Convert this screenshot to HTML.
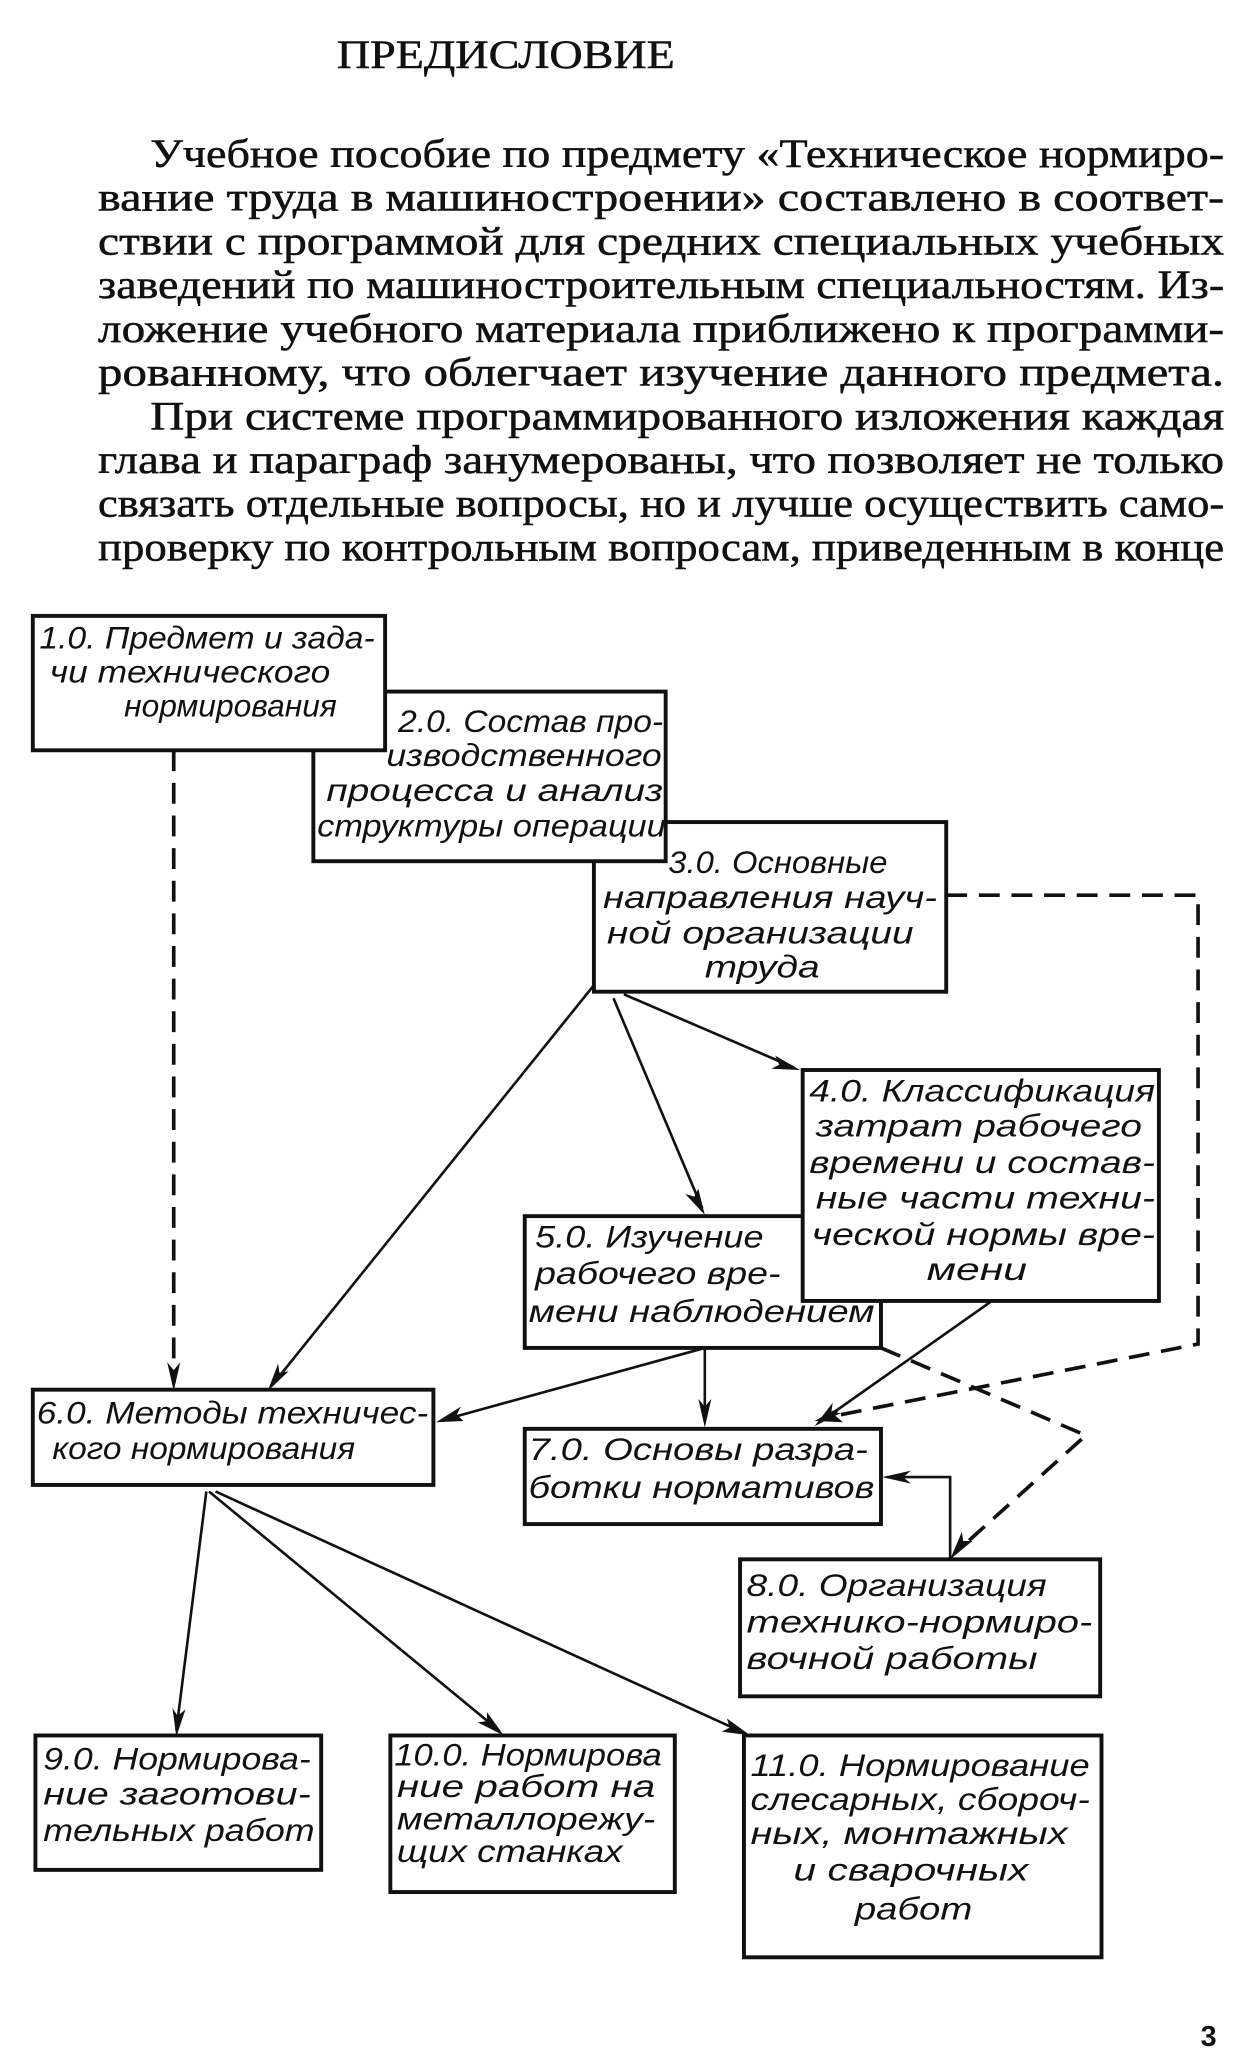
<!DOCTYPE html>
<html><head><meta charset="utf-8"><style>
html,body{margin:0;padding:0;background:#fff}
svg{display:block}
.t{font-family:"Liberation Serif",serif;font-size:31px;fill:#111;stroke:#111;stroke-width:0.4}
.b{font-family:"Liberation Sans",sans-serif;font-style:italic;font-size:24px;fill:#111}
.box{fill:#fff;stroke:#111;stroke-width:3}
.ln{stroke:#111;stroke-width:2;fill:none}
.ds{stroke:#111;stroke-width:2.8;fill:none;stroke-dasharray:16 9}
.ah{fill:#111}
</style></head><body>
<svg width="1240" height="2063" viewBox="0 0 950 1581" xmlns="http://www.w3.org/2000/svg">
<text class="t" x="258" y="52" textLength="259" lengthAdjust="spacingAndGlyphs">ПРЕДИСЛОВИЕ</text>
<text class="t" x="115" y="128" textLength="823" lengthAdjust="spacingAndGlyphs">Учебное пособие по предмету «Техническое нормиро-</text>
<text class="t" x="75" y="161.5" textLength="863" lengthAdjust="spacingAndGlyphs">вание труда в машиностроении» составлено в соответ-</text>
<text class="t" x="75" y="195" textLength="863" lengthAdjust="spacingAndGlyphs">ствии с программой для средних специальных учебных</text>
<text class="t" x="75" y="228.5" textLength="863" lengthAdjust="spacingAndGlyphs">заведений по машиностроительным специальностям. Из-</text>
<text class="t" x="75" y="262" textLength="863" lengthAdjust="spacingAndGlyphs">ложение учебного материала приближено к программи-</text>
<text class="t" x="75" y="295.5" textLength="863" lengthAdjust="spacingAndGlyphs">рованному, что облегчает изучение данного предмета.</text>
<text class="t" x="115" y="329" textLength="823" lengthAdjust="spacingAndGlyphs">При системе программированного изложения каждая</text>
<text class="t" x="75" y="362.5" textLength="863" lengthAdjust="spacingAndGlyphs">глава и параграф занумерованы, что позволяет не только</text>
<text class="t" x="75" y="396" textLength="863" lengthAdjust="spacingAndGlyphs">связать отдельные вопросы, но и лучше осуществить само-</text>
<text class="t" x="75" y="429.5" textLength="863" lengthAdjust="spacingAndGlyphs">проверку по контрольным вопросам, приведенным в конце</text>

<!-- connectors -->
<path class="ds" d="M133 575 V1060"/>
<path class="ah" d="M133 1066 l-5 -22 l5 6 l5 -6z"/>
<path class="ds" d="M725 686 H918 V1030 L640 1085"/>
<path class="ah" d="M624 1089 l20 -11 l-4 7 l6 5z"/>
<path class="ln" d="M455 755 L208 1062"/>
<path class="ah" d="M205 1066 l8 -21 l1 7 l7 -1z"/>
<path class="ln" d="M478 762 L608 818"/>
<path class="ah" d="M613 820 l-22 -1 l6 -3 l-3 -7z"/>
<path class="ln" d="M470 765 L538 926"/>
<path class="ah" d="M540 931 l-15 -16 l7 2 l3 -6z"/>
<path class="ln" d="M540 1033 L340 1088"/>
<path class="ah" d="M334 1090 l19 -12 l-3 6 l5 5z"/>
<path class="ln" d="M540 1033 V1090"/>
<path class="ah" d="M540 1094 l-5 -22 l5 6 l5 -6z"/>
<path class="ln" d="M760 997 L628 1090"/>
<path class="ah" d="M624 1093 l14 -18 l-1 7 l7 1z"/>
<path class="ds" d="M675 1033 L832 1100 L732 1190"/>
<path class="ah" d="M728 1195 l9 -21 l1 7 l7 0z"/>
<path class="ln" d="M728 1195 V1132 H680"/>
<path class="ah" d="M676 1132 l22 -5 l-6 5 l6 5z"/>
<path class="ln" d="M158 1143 L135 1326"/>
<path class="ah" d="M135 1331 l-3 -22 l4 6 l6 -5z"/>
<path class="ln" d="M160 1143 L382 1326"/>
<path class="ah" d="M386 1330 l-20 -10 l7 -1 l0 -7z"/>
<path class="ln" d="M165 1143 L570 1328"/>
<path class="ah" d="M575 1330 l-22 -3 l6 -3 l-2 -7z"/>

<!-- boxes -->
<rect class="box" x="455" y="630" width="270" height="130"/>
<rect class="box" x="240" y="530" width="270" height="130"/>
<rect class="box" x="25" y="472" width="270" height="103"/>
<rect class="box" x="402" y="932" width="273" height="101"/>
<rect class="box" x="615" y="820" width="273" height="177"/>
<rect class="box" x="25" y="1065" width="307" height="73"/>
<rect class="box" x="402" y="1095" width="273" height="73"/>
<rect class="box" x="567" y="1195" width="276" height="105"/>
<rect class="box" x="27" y="1330" width="219" height="103"/>
<rect class="box" x="299" y="1330" width="218" height="120"/>
<rect class="box" x="570" y="1330" width="274" height="170"/>

<g class="b">
<text x="30" y="497" textLength="257" lengthAdjust="spacingAndGlyphs">1.0. Предмет и зада-</text>
<text x="38" y="523" textLength="215" lengthAdjust="spacingAndGlyphs">чи технического</text>
<text x="95" y="549" textLength="163" lengthAdjust="spacingAndGlyphs">нормирования</text>

<text x="305" y="561" textLength="203" lengthAdjust="spacingAndGlyphs">2.0. Состав про-</text>
<text x="296" y="587" textLength="211" lengthAdjust="spacingAndGlyphs">изводственного</text>
<text x="250" y="614" textLength="258" lengthAdjust="spacingAndGlyphs">процесса и анализ</text>
<text x="243" y="641" textLength="267" lengthAdjust="spacingAndGlyphs">структуры операции</text>

<text x="512" y="669" textLength="168" lengthAdjust="spacingAndGlyphs">3.0. Основные</text>
<text x="462" y="696" textLength="256" lengthAdjust="spacingAndGlyphs">направления науч-</text>
<text x="465" y="723" textLength="235" lengthAdjust="spacingAndGlyphs">ной организации</text>
<text x="540" y="749" textLength="88" lengthAdjust="spacingAndGlyphs">труда</text>

<text x="620" y="844" textLength="265" lengthAdjust="spacingAndGlyphs">4.0. Классификация</text>
<text x="625" y="871" textLength="250" lengthAdjust="spacingAndGlyphs">затрат рабочего</text>
<text x="620" y="899" textLength="265" lengthAdjust="spacingAndGlyphs">времени и состав-</text>
<text x="625" y="926" textLength="260" lengthAdjust="spacingAndGlyphs">ные части техни-</text>
<text x="622" y="954" textLength="263" lengthAdjust="spacingAndGlyphs">ческой нормы вре-</text>
<text x="710" y="981" textLength="77" lengthAdjust="spacingAndGlyphs">мени</text>

<text x="410" y="956" textLength="175" lengthAdjust="spacingAndGlyphs">5.0. Изучение</text>
<text x="410" y="984" textLength="188" lengthAdjust="spacingAndGlyphs">рабочего вре-</text>
<text x="405" y="1013" textLength="265" lengthAdjust="spacingAndGlyphs">мени наблюдением</text>

<text x="28" y="1091" textLength="300" lengthAdjust="spacingAndGlyphs">6.0. Методы техничес-</text>
<text x="40" y="1118" textLength="232" lengthAdjust="spacingAndGlyphs">кого нормирования</text>

<text x="405" y="1119" textLength="260" lengthAdjust="spacingAndGlyphs">7.0. Основы разра-</text>
<text x="405" y="1148" textLength="265" lengthAdjust="spacingAndGlyphs">ботки нормативов</text>

<text x="572" y="1223" textLength="230" lengthAdjust="spacingAndGlyphs">8.0. Организация</text>
<text x="572" y="1251" textLength="265" lengthAdjust="spacingAndGlyphs">технико-нормиро-</text>
<text x="572" y="1279" textLength="223" lengthAdjust="spacingAndGlyphs">вочной работы</text>

<text x="33" y="1356" textLength="205" lengthAdjust="spacingAndGlyphs">9.0. Нормирова-</text>
<text x="33" y="1383" textLength="205" lengthAdjust="spacingAndGlyphs">ние заготови-</text>
<text x="33" y="1411" textLength="208" lengthAdjust="spacingAndGlyphs">тельных работ</text>

<text x="302" y="1353" textLength="205" lengthAdjust="spacingAndGlyphs">10.0. Нормирова</text>
<text x="304" y="1377" textLength="198" lengthAdjust="spacingAndGlyphs">ние работ на</text>
<text x="304" y="1402" textLength="198" lengthAdjust="spacingAndGlyphs">металлорежу-</text>
<text x="304" y="1427" textLength="173" lengthAdjust="spacingAndGlyphs">щих станках</text>

<text x="575" y="1361" textLength="260" lengthAdjust="spacingAndGlyphs">11.0. Нормирование</text>
<text x="575" y="1387" textLength="260" lengthAdjust="spacingAndGlyphs">слесарных, сбороч-</text>
<text x="575" y="1413" textLength="243" lengthAdjust="spacingAndGlyphs">ных, монтажных</text>
<text x="608" y="1441" textLength="180" lengthAdjust="spacingAndGlyphs">и сварочных</text>
<text x="655" y="1471" textLength="90" lengthAdjust="spacingAndGlyphs">работ</text>
</g>
<text x="920" y="1568" style="font-family:'Liberation Sans',sans-serif;font-weight:bold;font-size:22px;fill:#111">3</text>
</svg>
</body></html>
